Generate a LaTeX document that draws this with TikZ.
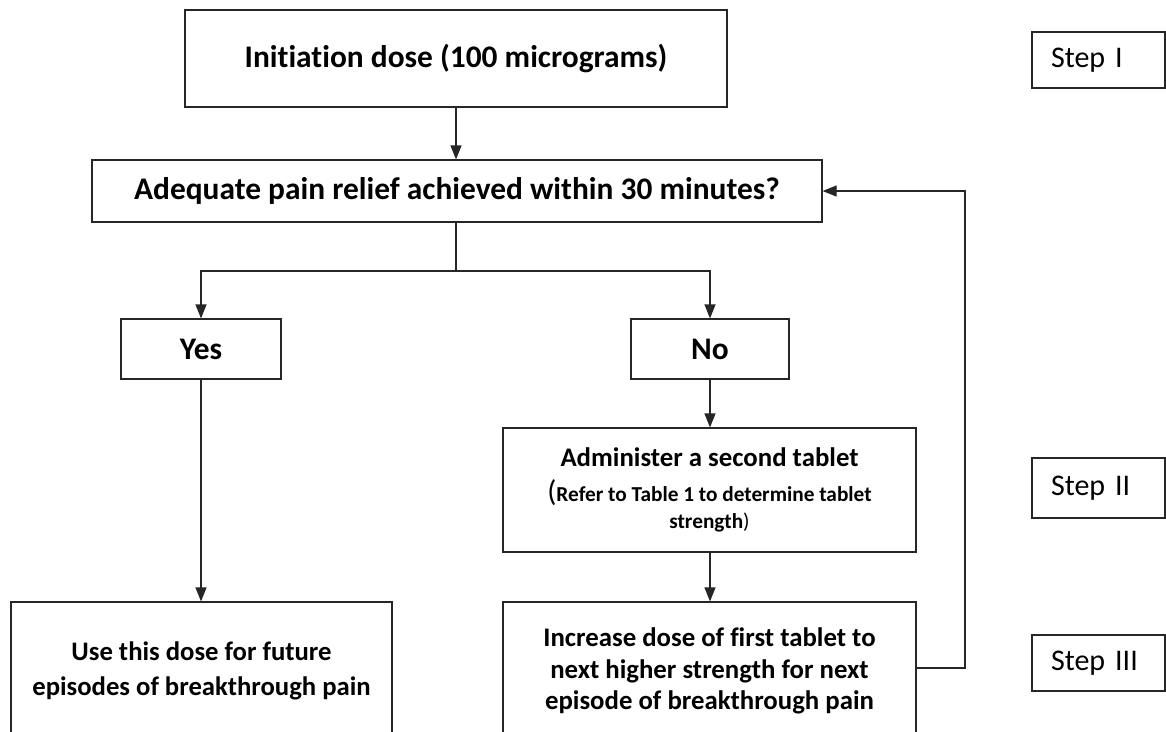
\documentclass[tikz,border=0pt]{standalone}
\usepackage{fontspec}
\setmainfont{Carlito}[Ligatures={NoCommon}]
\usetikzlibrary{arrows.meta}
\begin{document}
\begin{tikzpicture}[x=1pt,y=-1pt,
  box/.style={draw=black!85, line width=1.2pt, inner sep=0pt, align=center},
  conn/.style={draw=black!85, line width=1.2pt},
  arr/.style={conn, -{Triangle[width=11pt,length=14pt]}},
  big/.style={font=\bfseries\fontsize{31.4}{36}\selectfont},
  mid/.style={font=\bfseries\fontsize{26.8}{31.7}\selectfont},
  stepbox/.style={box, minimum width=133pt, text width=95pt, align=left, font=\fontsize{30}{36}\selectfont},
  txt/.style={inner sep=0pt, align=center}]
\clip (0,0) rectangle (1166,731);
\fill[white] (0,0) rectangle (1166,731);
% main boxes
\node[box, big, minimum width=542pt, minimum height=97pt] (init) at (456,58.5) {Initiation dose (100 micrograms)};
\node[box, big, minimum width=730pt, minimum height=62pt] (adeq) at (457,191) {Adequate pain relief achieved within 30 minutes?};
\node[box, big, minimum width=160pt, minimum height=60pt] (yes) at (201,349) {Yes};
\node[box, big, minimum width=158pt, minimum height=60pt] (no) at (710,349) {No};
\node[box, minimum width=413pt, minimum height=124pt, font=\bfseries\fontsize{21.3}{27}\selectfont] (admin) at (709.5,490)
  {{\fontsize{26.8}{30}\selectfont Administer a second tablet}\\[8pt]
   {\mdseries\fontsize{30}{27}\selectfont(}Refer to Table 1 to determine tablet\\
   strength{\mdseries)}};
\node[box, minimum width=381pt, minimum height=160pt] (use) at (201.5,682) {};
\node[txt, font=\bfseries\fontsize{26.7}{35}\selectfont] (usetxt) at (201.5,671) {Use this dose for future\\episodes of breakthrough pain};
\node[box, minimum width=413pt, minimum height=160pt] (incr) at (709.5,682) {};
\node[txt, mid] (incrtxt) at (709.5,671) {Increase dose of first tablet to\\next higher strength for next\\episode of breakthrough pain};
% step boxes
\node[stepbox, minimum height=56pt] (s1) at (1098.5,60) {Step I};
\node[stepbox, minimum height=60pt] (s2) at (1098.5,488) {Step II};
\node[stepbox, minimum height=56pt] (s3) at (1098.5,663) {Step III};
% connectors
\coordinate (split) at (456,271);
\coordinate (fb) at (965,668);
\draw[arr] (init.south) -- (init.south |- adeq.north);
\draw[conn] (adeq.south -| init.south) -- (split);
\draw[arr] (split) -| (yes.north);
\draw[arr] (split) -| (no.north);
\draw[arr] (no.south) -- (no.south |- admin.north);
\draw[arr] (no.south |- admin.south) -- (no.south |- incr.north);
\draw[arr] (yes.south) -- (yes.south |- use.north);
\draw[arr] (incr.east |- fb) -- (fb) |- (adeq.east);
\end{tikzpicture}
\end{document}
